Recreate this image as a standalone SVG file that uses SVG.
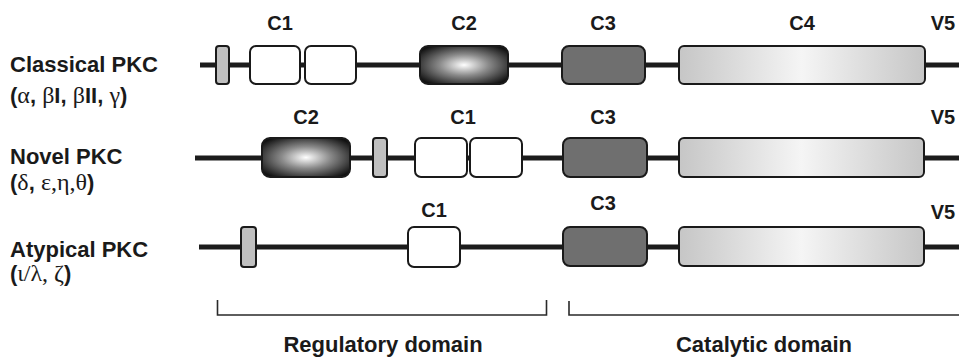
<svg xmlns="http://www.w3.org/2000/svg" width="959" height="362" viewBox="0 0 959 362">
  <defs>
    <radialGradient id="gC2" cx="50%" cy="50%" r="62%">
      <stop offset="0" stop-color="#ffffff"/>
      <stop offset="0.45" stop-color="#8a8a8a"/>
      <stop offset="1" stop-color="#111111"/>
    </radialGradient>
    <linearGradient id="gC4" x1="0" y1="0" x2="1" y2="0">
      <stop offset="0" stop-color="#c6c6c6"/>
      <stop offset="0.5" stop-color="#f5f5f5"/>
      <stop offset="1" stop-color="#c6c6c6"/>
    </linearGradient>
    <style>
      .bb { stroke: #1c1c1c; stroke-width: 5; }
      .dom { stroke: #1a1a1a; stroke-width: 2; }
      .pse { fill: #c0c0c0; }
      .c1 { fill: #ffffff; }
      .c2 { fill: url(#gC2); }
      .c3 { fill: #6f6f6f; }
      .c4 { fill: url(#gC4); }
      .lbl { font-family: "Liberation Sans", Arial, sans-serif; font-weight: bold; font-size: 20px; fill: #1a1a1a; text-anchor: middle; }
      .name { font-family: "Liberation Sans", Arial, sans-serif; font-weight: bold; font-size: 22px; fill: #1a1a1a; }
      .iso { font-family: "Liberation Sans", Arial, sans-serif; font-weight: bold; font-size: 22px; fill: #1a1a1a; }
      .gr { font-family: "Liberation Serif", "Times New Roman", serif; font-weight: normal; font-size: 24px; }
      .brk { fill: none; stroke: #2a2a2a; stroke-width: 1.6; }
      .dlabel { font-family: "Liberation Sans", Arial, sans-serif; font-weight: bold; font-size: 22px; fill: #1a1a1a; text-anchor: middle; }
    </style>
  </defs>

  <!-- Row names -->
  <g id="name-classical">
    <text class="name" x="10" y="72">Classical PKC</text>
    <text class="iso" x="10" y="103">(<tspan class="gr">α</tspan>, <tspan class="gr">β</tspan>I, <tspan class="gr">β</tspan>II, <tspan class="gr">γ</tspan>)</text>
  </g>
  <g id="name-novel">
    <text class="name" x="10" y="164">Novel PKC</text>
    <text class="iso" x="10" y="190">(<tspan class="gr">δ</tspan>, <tspan class="gr">ε,η,θ</tspan>)</text>
  </g>
  <g id="name-atypical">
    <text class="name" x="10" y="257">Atypical PKC</text>
    <text class="iso" x="10" y="281">(<tspan class="gr">ι/λ, ζ</tspan>)</text>
  </g>

  <!-- Backbones -->
  <g id="connectors">
    <line class="bb" x1="200" y1="65" x2="959" y2="65"/>
    <line class="bb" x1="195" y1="158" x2="959" y2="158"/>
    <line class="bb" x1="199" y1="247" x2="959" y2="247"/>
  </g>

  <!-- Classical PKC -->
  <g id="classical">
    <rect class="dom pse" x="216" y="46" width="13" height="38" rx="3"/>
    <rect class="dom c1" x="250" y="46" width="50" height="38" rx="6"/>
    <rect class="dom c1" x="305" y="46" width="51" height="38" rx="6"/>
    <rect class="dom c2" x="420" y="46" width="88" height="38" rx="8"/>
    <rect class="dom c3" x="562" y="46" width="83" height="38" rx="7"/>
    <rect class="dom c4" x="679" y="46" width="246" height="38" rx="5"/>
    <text class="lbl" x="280" y="30">C1</text>
    <text class="lbl" x="464" y="30">C2</text>
    <text class="lbl" x="603" y="30">C3</text>
    <text class="lbl" x="802" y="30">C4</text>
    <text class="lbl" x="943" y="30">V5</text>
  </g>

  <!-- Novel PKC -->
  <g id="novel">
    <rect class="dom c2" x="262" y="138" width="88" height="39" rx="8"/>
    <rect class="dom pse" x="373" y="138" width="14" height="39" rx="3"/>
    <rect class="dom c1" x="415" y="138" width="52" height="39" rx="6"/>
    <rect class="dom c1" x="470" y="138" width="52" height="39" rx="6"/>
    <rect class="dom c3" x="563" y="138" width="84" height="39" rx="7"/>
    <rect class="dom c4" x="679" y="138" width="245" height="39" rx="5"/>
    <text class="lbl" x="306" y="124">C2</text>
    <text class="lbl" x="463" y="124">C1</text>
    <text class="lbl" x="603" y="124">C3</text>
    <text class="lbl" x="943" y="124">V5</text>
  </g>

  <!-- Atypical PKC -->
  <g id="atypical">
    <rect class="dom pse" x="241" y="227" width="15" height="40" rx="3"/>
    <rect class="dom c1" x="408" y="227" width="52" height="40" rx="6"/>
    <rect class="dom c3" x="563" y="227" width="84" height="39" rx="7"/>
    <rect class="dom c4" x="679" y="227" width="245" height="39" rx="5"/>
    <text class="lbl" x="434" y="217">C1</text>
    <text class="lbl" x="603" y="210">C3</text>
    <text class="lbl" x="943" y="219">V5</text>
  </g>

  <!-- Domain brackets -->
  <g id="regulatory">
    <path class="brk" d="M217.5 300 V315 H546.5 V300"/>
    <text class="dlabel" x="383" y="352">Regulatory domain</text>
  </g>
  <g id="catalytic">
    <path class="brk" d="M569 301 V315 H959"/>
    <text class="dlabel" x="764" y="352">Catalytic domain</text>
  </g>
</svg>
